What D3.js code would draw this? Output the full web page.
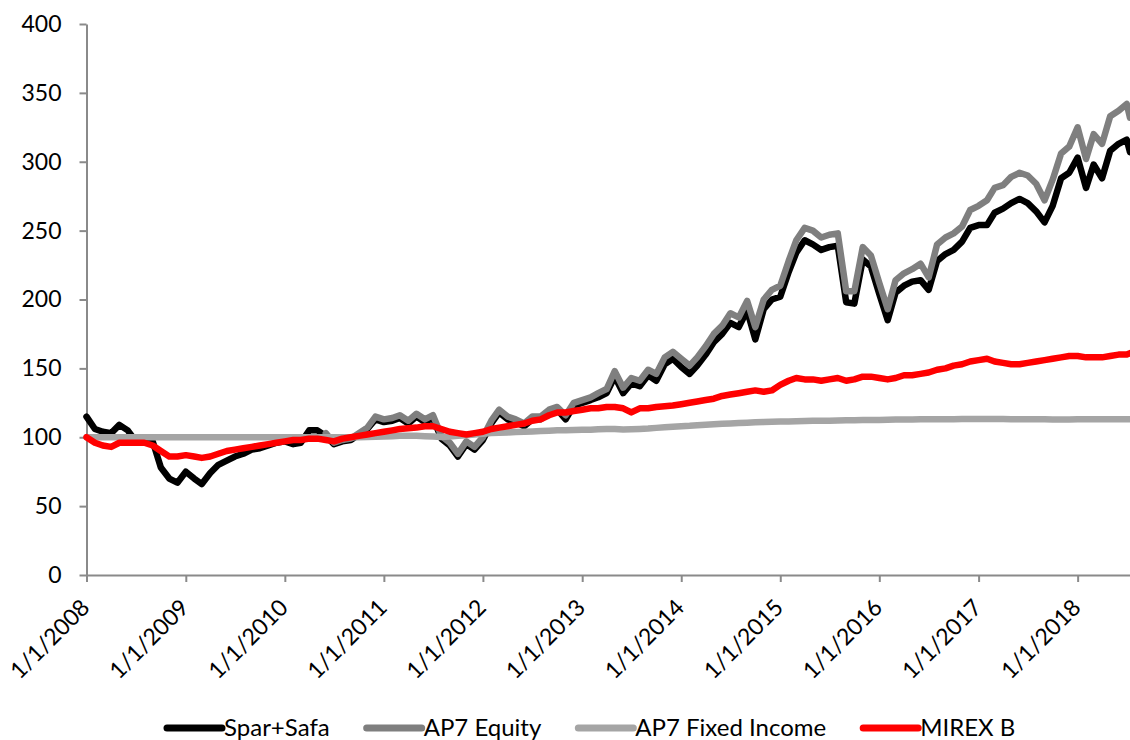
<!DOCTYPE html>
<html><head><meta charset="utf-8">
<script src="https://cdn.jsdelivr.net/npm/d3@7"></script>
<style>html,body{margin:0;padding:0;background:#fff;overflow:hidden;} svg{display:block;font-family:Lato,"Open Sans",sans-serif;}</style>
</head><body><svg id="chart" width="1130" height="740"></svg>
<script>
const dates = [
"2008-01-01","2008-02-01","2008-03-01","2008-04-01","2008-05-01","2008-06-01","2008-07-01","2008-08-01","2008-09-01","2008-10-01","2008-11-01","2008-12-01",
"2009-01-01","2009-02-01","2009-03-01","2009-04-01","2009-05-01","2009-06-01","2009-07-01","2009-08-01","2009-09-01","2009-10-01","2009-11-01","2009-12-01",
"2010-01-01","2010-02-01","2010-03-01","2010-04-01","2010-05-01","2010-06-01","2010-07-01","2010-08-01","2010-09-01","2010-10-01","2010-11-01","2010-12-01",
"2011-01-01","2011-02-01","2011-03-01","2011-04-01","2011-05-01","2011-06-01","2011-07-01","2011-08-01","2011-09-01","2011-10-01","2011-11-01","2011-12-01",
"2012-01-01","2012-02-01","2012-03-01","2012-04-01","2012-05-01","2012-06-01","2012-07-01","2012-08-01","2012-09-01","2012-10-01","2012-11-01","2012-12-01",
"2013-01-01","2013-02-01","2013-03-01","2013-04-01","2013-05-01","2013-06-01","2013-07-01","2013-08-01","2013-09-01","2013-10-01","2013-11-01","2013-12-01",
"2014-01-01","2014-02-01","2014-03-01","2014-04-01","2014-05-01","2014-06-01","2014-07-01","2014-08-01","2014-09-01","2014-10-01","2014-11-01","2014-12-01",
"2015-01-01","2015-02-01","2015-03-01","2015-04-01","2015-05-01","2015-06-01","2015-07-01","2015-08-01","2015-09-01","2015-10-01","2015-11-01","2015-12-01",
"2016-01-01","2016-02-01","2016-03-01","2016-04-01","2016-05-01","2016-06-01","2016-07-01","2016-08-01","2016-09-01","2016-10-01","2016-11-01","2016-12-01",
"2017-01-01","2017-02-01","2017-03-01","2017-04-01","2017-05-01","2017-06-01","2017-07-01","2017-08-01","2017-09-01","2017-10-01","2017-11-01","2017-12-01",
"2018-01-01","2018-02-01","2018-03-01","2018-04-01","2018-05-01","2018-06-01","2018-07-01","2018-07-13"
];

const sparSafa = [
115,106,104,103,109,105,97,96,97,78,70,67,
75,70,66,74,80,83,86,88,91,92,94,96,
97,95,96,105,105,101,95,97,98,102,106,113,
111,112,114,110,115,111,114,99,94,86,95,91,
98,110,118,113,111,108,113,113,118,120,113,123,
125,127,129,132,144,132,139,137,145,141,153,157,
151,146,152,160,169,175,183,180,192,171,193,200,
202,220,234,243,240,236,238,239,198,197,229,224,
204,185,205,210,213,214,207,228,233,236,242,252,
254,254,263,266,270,273,270,264,256,268,288,292,
303,281,298,288,308,313,316,307
];

const ap7Equity = [
null,null,null,null,null,null,null,null,null,null,null,null,
null,null,null,null,null,null,null,null,null,null,null,null,
null,null,null,null,null,103,96,98,99,103,107,115,
113,114,116,112,117,113,116,101,96,88,97,93,
100,112,120,115,113,110,115,115,120,122,116,125,
127,129,132,135,148,136,143,141,149,146,158,162,
157,152,158,166,175,181,190,187,199,180,200,207,
210,228,243,252,250,245,247,248,206,206,238,232,
212,193,214,219,222,226,216,240,245,248,253,265,
268,272,281,283,289,292,290,284,272,287,306,311,
325,302,320,313,333,337,342,332
];

const ap7FixedIncome = [
100,100,100,100,100,100,100,100,100,100,100,100,
100,100,100,100,100,100,100,100,100,100,100,100,
100,100,100,100,100,100,100,100,100,100,100.2,100.4,
100.6,100.8,101,101,101,100.8,100.5,100.2,100.5,101,101.5,102,
102.5,103,103.2,103.5,103.8,104,104.2,104.5,104.8,105,105,105.2,
105.5,105.5,105.8,106,106,105.6,105.8,106,106.3,106.8,107.2,107.6,
108,108.3,108.7,109,109.4,109.8,110,110.3,110.6,110.8,111,111.2,
111.4,111.5,111.6,111.8,112,112,112,112.2,112.3,112.4,112.5,112.6,
112.6,112.7,112.8,112.8,112.9,113,113,113,113.1,113.1,113.2,113.2,
113.2,113.2,113.2,113.2,113.1,113.1,113,113,113,112.9,112.9,112.9,
113,113,113,113,113,113,113,113
];

const mirexB = [
100,96,94,93,96,96,96,96,94,90,86,86,
87,86,85,86,88,90,91,92,93,94,95,96,
97,98,98,99,99,98,97,99,100,101,102,103,
104,105,106,106.5,107,108,108,106,104,103,102,103,
104,106,107,108,109,110,112,113,116,118,118,119,
120,121,121,122,122,121,118,121,121,122,122.5,123,
124,125,126,127,128,130,131,132,133,134,133,134,
138,141,143,142,142,141,142,143,141,142,144,144,
143,142,143,145,145,146,147,149,150,152,153,155,
156,157,155,154,153,153,154,155,156,157,158,159,
159,158,158,158,159,160,160,161
];

const seriesNames = ["Spar+Safa","AP7 Equity","AP7 Fixed Income","MIREX B"];
const seriesColors = ["#000000","#7f7f7f","#a5a5a5","#ff0000"];
const seriesValues = [sparSafa, ap7Equity, ap7FixedIncome, mirexB];

const yTicks = [0,50,100,150,200,250,300,350,400];
const xTickDates = ["2008-01-01","2009-01-01","2010-01-01","2011-01-01","2012-01-01","2013-01-01","2014-01-01","2015-01-01","2016-01-01","2017-01-01","2018-01-01"];
const xTickLabels = ["1/1/2008","1/1/2009","1/1/2010","1/1/2011","1/1/2012","1/1/2013","1/1/2014","1/1/2015","1/1/2016","1/1/2017","1/1/2018"];

const parse = d3.utcParse("%Y-%m-%d");
const dateObjs = dates.map(parse);

const svg = d3.select("#chart");
const x = d3.scaleUtc().domain([dateObjs[0], dateObjs[dateObjs.length-1]]).range([86.5, 1130]);
const y = d3.scaleLinear().domain([0,400]).range([575,24]);

const axisColor = "#8a8a8a";

// Y axis
const yAxis = svg.append("g").attr("transform","translate(86.5,0)")
  .call(d3.axisLeft(y).tickValues(yTicks).tickSize(7).tickPadding(18).tickSizeOuter(0));
yAxis.select(".domain").attr("stroke",axisColor).attr("stroke-width",2);
yAxis.selectAll(".tick line").attr("stroke",axisColor).attr("stroke-width",2);
yAxis.selectAll(".tick text").attr("font-size",23).attr("fill","#000").attr("font-family","Lato");

// X axis
const xAxis = svg.append("g").attr("transform","translate(0,575)")
  .call(d3.axisBottom(x).tickValues(xTickDates.map(parse)).tickSize(7).tickSizeOuter(0)
    .tickFormat((d,i)=>xTickLabels[i]));
xAxis.select(".domain").attr("stroke",axisColor).attr("stroke-width",2);
xAxis.selectAll(".tick line").attr("stroke",axisColor).attr("stroke-width",2);
xAxis.selectAll(".tick text")
  .attr("font-size",23).attr("fill","#000").attr("font-family","Lato")
  .attr("text-anchor","end").attr("y",0).attr("dy",0)
  .attr("transform","translate(4,34) rotate(-45)");

// Lines
const line = d3.line()
  .defined(d => d.v != null)
  .x(d => x(d.t)).y(d => y(d.v));

seriesValues.forEach((vals,i)=>{
  const data = vals.map((v,j)=>({t:dateObjs[j], v:v}));
  svg.append("path").datum(data)
    .attr("fill","none").attr("stroke",seriesColors[i])
    .attr("stroke-width",6.5).attr("stroke-linejoin","round").attr("stroke-linecap","round")
    .attr("d",line);
});

// Legend
const legend = svg.append("g");
let lx = 167;
seriesNames.forEach((name,i)=>{
  legend.append("line").attr("x1",lx).attr("x2",lx+55).attr("y1",728).attr("y2",728)
    .attr("stroke",seriesColors[i]).attr("stroke-width",7).attr("stroke-linecap","round");
  const t = legend.append("text").attr("x",lx+57).attr("y",736)
    .attr("font-size",24).attr("font-family","Lato").attr("fill","#000").text(name);
  const w = t.node().getComputedTextLength();
  lx = lx + 57 + w + 37;
});
</script></body></html>
